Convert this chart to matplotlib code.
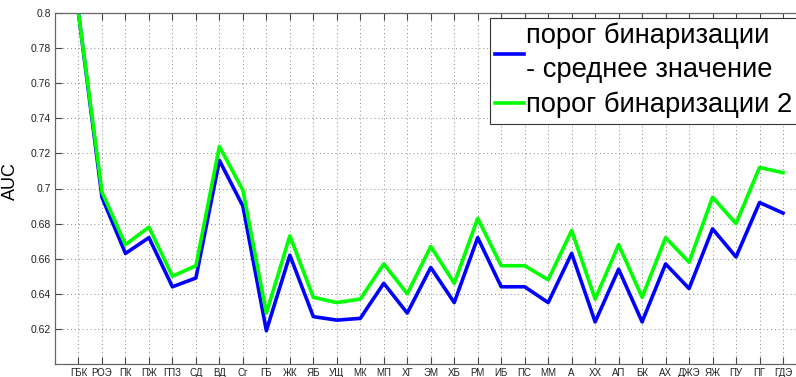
import matplotlib.pyplot as plt
import numpy as np

categories = ["ГБК", "РОЭ", "ПК", "ПЖ", "ГПЗ", "СД", "ВД", "Сг", "ГБ", "ЖК", "ЯБ",
              "УЩ", "МК", "МП", "ХГ", "ЭМ", "ХБ", "РМ", "ИБ", "ПС", "ММ", "А",
              "ХХ", "АП", "БК", "АХ", "ДЖЭ", "ЯЖ", "ПУ", "ПГ", "ГДЭ"]

auc_mean = [0.800, 0.695, 0.663, 0.672, 0.644, 0.649, 0.716, 0.690, 0.619, 0.662, 0.627,
            0.625, 0.626, 0.646, 0.629, 0.655, 0.635, 0.672, 0.644, 0.644, 0.635, 0.663,
            0.624, 0.654, 0.624, 0.657, 0.643, 0.677, 0.661, 0.692, 0.686]

auc_thr2 = [0.800, 0.698, 0.668, 0.678, 0.650, 0.656, 0.724, 0.699, 0.629, 0.673, 0.638,
            0.635, 0.637, 0.657, 0.640, 0.667, 0.646, 0.683, 0.656, 0.656, 0.648, 0.676,
            0.637, 0.668, 0.638, 0.672, 0.658, 0.695, 0.680, 0.712, 0.709]

yticks = [0.62, 0.64, 0.66, 0.68, 0.7, 0.72, 0.74, 0.76, 0.78, 0.8]

plt.rcParams["font.family"] = ["Liberation Sans", "DejaVu Sans"]

fig = plt.figure(figsize=(7.96, 3.77), dpi=100)
ax = fig.add_axes([55 / 796, 13 / 377, 751.5 / 796, 351 / 377])

x = np.arange(1, len(categories) + 1)
ax.plot(x, auc_mean, color="#0000ff", linewidth=2.6,
        label="порог бинаризации\n- среднее значение")
ax.plot(x, auc_thr2, color="#00ff00", linewidth=2.6,
        label="порог бинаризации 2")

ax.set_xlim(0, 32)
ax.set_ylim(0.6, 0.8)
ax.set_xticks(x)
ax.set_xticklabels(categories, fontsize=7)
ax.set_yticks(yticks)
ax.set_yticklabels(["%g" % t for t in yticks], fontsize=7.5)
ax.set_ylabel("AUC", fontsize=13)
ax.yaxis.set_label_coords((19 - 55) / 751.5, (364 - 181) / 351)

ax.grid(True, linestyle=(0, (1, 3)), color="#888888", linewidth=0.7)
ax.tick_params(direction="in", length=5, width=0.8, top=True, right=True,
               colors="#444444", labelcolor="#222222", pad=3)
for s in ax.spines.values():
    s.set_color("#666666")
    s.set_linewidth(0.9)

leg = ax.legend(loc="upper left", bbox_to_anchor=((490 - 55) / 751.5, (364 - 17.5) / 351),
                fontsize=19.7, frameon=True, fancybox=False, framealpha=1,
                edgecolor="#333333", handlelength=1.05, handletextpad=0.08,
                borderpad=0.2, labelspacing=0.3, borderaxespad=0)
leg.get_frame().set_linewidth(0.8)
leg.get_texts()[0].set_linespacing(1.4)

fig.savefig("out.png", dpi=100)
